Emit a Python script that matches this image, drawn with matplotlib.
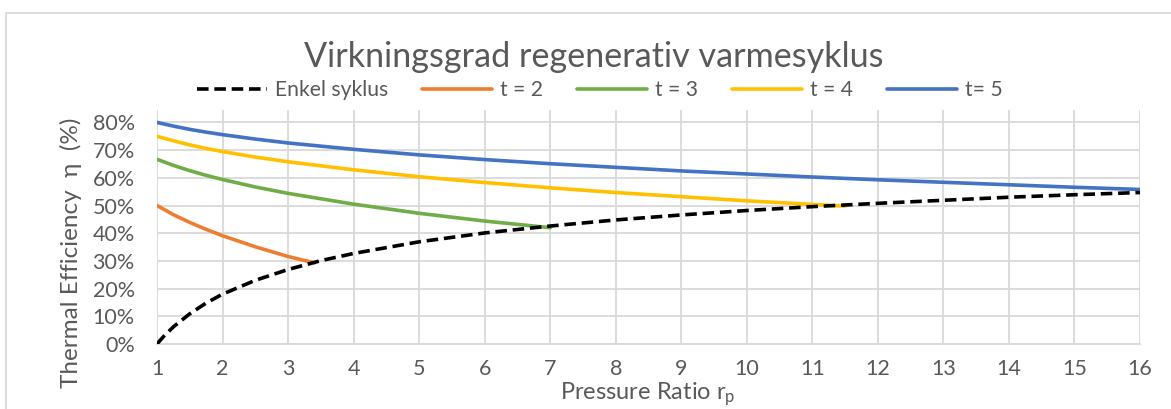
import matplotlib
matplotlib.use('Agg')
import matplotlib.pyplot as plt
from matplotlib.patches import Rectangle
from matplotlib.ticker import PercentFormatter

plt.rcParams['font.family'] = ['Lato', 'DejaVu Sans']

# pressure ratios and efficiencies
rp_enkel = [1, 1.1, 1.25, 1.5, 1.75, 2, 2.5, 3, 3.5, 4, 5, 6, 7, 8, 9, 10, 11, 12, 13, 14, 15, 16]
eta_enkel = [0.0, 0.027, 0.062, 0.109, 0.148, 0.180, 0.230, 0.269, 0.301, 0.327, 0.369, 0.401,
             0.426, 0.448, 0.466, 0.482, 0.496, 0.508, 0.519, 0.530, 0.539, 0.547]

rp_t2 = [1, 1.25, 1.5, 1.75, 2, 2.5, 3, 3.4]
eta_t2 = [0.500, 0.467, 0.439, 0.414, 0.391, 0.351, 0.316, 0.293]

rp_t3 = [1, 1.25, 1.5, 1.75, 2, 2.5, 3, 4, 5, 6, 7]
eta_t3 = [0.667, 0.645, 0.626, 0.609, 0.594, 0.567, 0.544, 0.505, 0.472, 0.444, 0.420]

rp_t4 = [1, 1.25, 1.5, 1.75, 2, 2.5, 3, 4, 5, 6, 7, 8, 9, 10, 11, 11.5]
eta_t4 = [0.750, 0.734, 0.719, 0.706, 0.695, 0.675, 0.658, 0.629, 0.604, 0.583, 0.564,
          0.547, 0.532, 0.517, 0.504, 0.498]

rp_t5 = [1, 1.25, 1.5, 1.75, 2, 2.5, 3, 4, 5, 6, 7, 8, 9, 10, 11, 12, 13, 14, 15, 16]
eta_t5 = [0.800, 0.787, 0.775, 0.765, 0.756, 0.740, 0.726, 0.703, 0.683, 0.666, 0.651,
          0.638, 0.625, 0.614, 0.603, 0.593, 0.584, 0.575, 0.566, 0.558]

text_color = '#595959'
grid_color = '#d9d9d9'

fig = plt.figure(figsize=(11.71, 4.09), dpi=100, facecolor='white')
ax = fig.add_axes([157/1171, 1 - 344/409, (1140 - 157)/1171, (344 - 110)/409])

ax.plot(rp_t2, eta_t2, color='#ED7D31', linewidth=2.6, label='t = 2', solid_capstyle='round')
ax.plot(rp_t3, eta_t3, color='#70AD47', linewidth=2.6, label='t = 3', solid_capstyle='round')
ax.plot(rp_t4, eta_t4, color='#FFC000', linewidth=2.6, label='t = 4', solid_capstyle='round')
ax.plot(rp_t5, eta_t5, color='#4472C4', linewidth=2.6, label='t= 5', solid_capstyle='round')
ax.plot(rp_enkel, eta_enkel, color='black', linewidth=2.6, linestyle=(0, (3.2, 1.6)),
        label='Enkel syklus', zorder=5)

ax.set_xlim(1, 16)
ax.set_ylim(0, 0.845)
ax.set_xticks(range(1, 17))
ax.set_yticks([i / 10 for i in range(9)])
ax.yaxis.set_major_formatter(PercentFormatter(1.0, decimals=0))
ax.grid(color=grid_color, linewidth=1.3)
ax.set_axisbelow(True)
for s in ['top', 'right', 'left']:
    ax.spines[s].set_visible(False)
ax.spines['bottom'].set_color(grid_color)
ax.spines['bottom'].set_linewidth(1.3)
ax.tick_params(length=0, colors=text_color, labelsize=15.5)
ax.tick_params(axis='x', pad=11)
ax.tick_params(axis='y', pad=16)

handles, labels = ax.get_legend_handles_labels()
order = [4, 0, 1, 2, 3]
ax.legend([handles[i] for i in order], [labels[i] for i in order], ncol=5,
          loc='center', bbox_to_anchor=(600/1171, 1 - 90/409), bbox_transform=fig.transFigure,
          frameon=False, fontsize=15.2, labelcolor=text_color, handlelength=3.3,
          handletextpad=0.4, columnspacing=1.6)

fig.text(594/1171, 1 - 57/409, 'Virkningsgrad regenerativ varmesyklus', ha='center', va='center',
         fontsize=24.6, color=text_color)
fig.text(71/1171, 1 - 253/409, 'Thermal Efficiency  η  (%)', rotation=90, ha='center', va='center',
         fontsize=17.5, color=text_color)
fig.text(648/1171, 1/409, r'Pressure Ratio $\mathregular{r_p}$', ha='center', va='bottom',
         fontsize=17, color=text_color)

fig.patches.append(Rectangle((6/1171, -0.05), 1.1, 1 - 13/409 + 0.05, transform=fig.transFigure,
                             fill=False, edgecolor=grid_color, linewidth=1.3))

fig.savefig('out.png', dpi=100)
